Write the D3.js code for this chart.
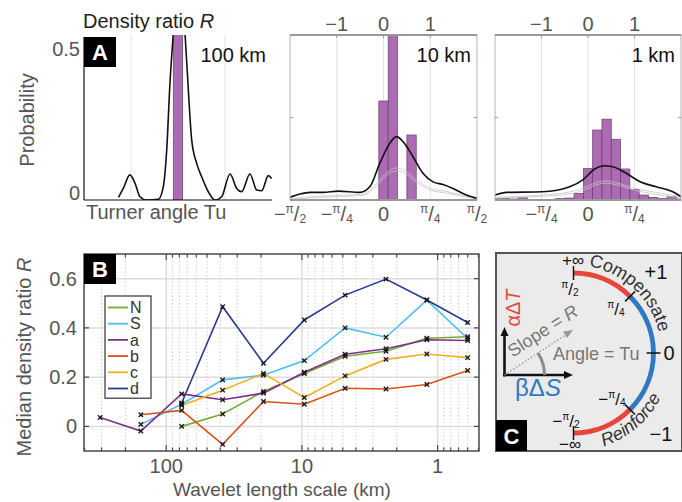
<!DOCTYPE html>
<html><head><meta charset="utf-8">
<script src="https://cdn.jsdelivr.net/npm/d3@7"></script>
<style>
html,body{margin:0;padding:0;background:#fff;}
svg{display:block;font-family:'Liberation Sans',Arial,sans-serif;}
</style></head><body>
<svg id="chart" width="682" height="502"></svg>
<script>
// ================= DATA =================
// Panel A: histogram bin centres (Turner angle, degrees) and probabilities
const binCenters = [-90,-81,-72,-63,-54,-45,-36,-27,-18,-9,0,9,18,27,36,45,54,63,72,81,90];
const hist100km = [0,0,0,0,0,0,0,0,0,0,1.0,0,0,0,0,0,0,0,0,0,0];
const hist10km  = [0,0,0,0,0,0,0,0,0,0,0.30,0.51,0,0.197,0,0,0,0,0,0,0];
const hist1km   = [0.005,0.005,0.003,0.007,0.002,0.002,0.002,0.004,0.006,0.020,0.096,0.212,0.245,0.184,0.094,0.032,0.015,0.008,0.004,0.010,0.003];
// Panel A: kernel density curves [Tu (deg), probability]
const kde100km = [[-57,0.008],[-52.4,0.035],[-46,0.076],[-41.2,0.051],[-36.4,0.010],[-30,0.0],[-18.9,0.002],[-14.1,0.040],[-10.8,0.152],[-7.7,0.354],[-4.5,0.505],[0,0.70],[6.7,0.505],[9.9,0.333],[13.1,0.182],[17.9,0.111],[22.7,0.070],[29,0.025],[35.4,0.0],[41.8,0.010],[49.8,0.079],[56.2,0.035],[61,0.025],[68.9,0.079],[75.4,0.030],[80.1,0.028],[86.5,0.074],[89.7,0.065]];
const kde10km = [[-90,0.008],[-80.4,0.018],[-70.8,0.023],[-58,0.023],[-43.6,0.027],[-22.8,0.023],[-13.2,0.040],[-3.6,0.111],[6.1,0.172],[12.5,0.192],[18.8,0.177],[28.4,0.131],[38,0.081],[47.7,0.055],[57.3,0.047],[66.9,0.035],[79.8,0.015],[90,0.005]];
const kde10kmFaintA = [[-90,0.004],[-60,0.012],[-45,0.014],[-20,0.018],[-8,0.045],[2,0.080],[12,0.097],[20,0.090],[30,0.065],[45,0.036],[60,0.026],[75,0.016],[90,0.005]];
const kde10kmFaintB = [[-90,0.002],[-60,0.008],[-45,0.010],[-20,0.014],[-8,0.038],[2,0.072],[12,0.088],[20,0.082],[30,0.058],[45,0.030],[60,0.021],[75,0.012],[90,0.003]];
const kde1km = [[-90,0.015],[-78.7,0.023],[-44,0.025],[-17.7,0.040],[-5,0.061],[6.5,0.094],[16,0.104],[24,0.101],[37,0.081],[50,0.056],[66,0.040],[82,0.025],[90,0.010]];
const kde1kmFaintA = [[-90,0.008],[-60,0.012],[-45,0.015],[-15,0.026],[0,0.042],[10,0.055],[18,0.058],[30,0.050],[45,0.036],[60,0.026],[75,0.018],[90,0.010]];
const kde1kmFaintB = [[-90,0.005],[-60,0.009],[-45,0.011],[-15,0.020],[0,0.035],[10,0.048],[18,0.051],[30,0.044],[45,0.030],[60,0.020],[75,0.013],[90,0.006]];
const tuTickValues = [-90,-45,0,45,90];
const tuTickLabels = ['−π/2','−π/4','0','π/4','π/2'];
const rTickValues = [-1,0,1];
const rTickLabels = ['−1','0','1'];

// Panel B: wavelet length scales (km) and median density ratio per region
const scalesKm = [307,154,77,38.4,19.2,9.6,4.8,2.4,1.2,0.6];
const seriesNames = ['N','S','a','b','c','d'];
const seriesColors = ['#77ac30','#4dbeee','#7e2f8e','#d95319','#edb120','#2b3a8f'];
const valN = [null,null,0.0,0.05,0.142,0.215,0.285,0.305,0.358,0.364];
const valS = [null,0.008,0.09,0.189,0.208,0.267,0.40,0.362,0.513,0.357];
const valA = [0.036,-0.019,0.132,0.108,0.135,0.22,0.293,0.315,0.352,0.349];
const valB = [null,0.047,0.065,-0.073,0.101,0.09,0.155,0.152,0.17,0.227];
const valC = [null,null,0.085,0.147,0.215,0.117,0.205,0.272,0.294,0.279];
const valD = [null,null,0.095,0.486,0.256,0.432,0.533,0.598,0.513,0.422];
const yTicksB = [0,0.2,0.4,0.6];
const yTickLabelsB = ['0','0.2','0.4','0.6'];
const xMajorB = [100,10,1];
const xMajorLabelsB = ['100','10','1'];

// ================= DRAW =================
const svg = d3.select('#chart');
const defs = svg.append('defs');
const FONT_GRAY = '#555';

function piLabel(g, x, y, label, size, anchor){
  const t = g.append('text').attr('x',x).attr('y',y).attr('text-anchor',anchor||'middle')
    .attr('font-size',size).attr('fill',FONT_GRAY);
  if(label.indexOf('π')<0){ t.text(label); return t; }
  const neg = label[0]==='−';
  const den = label[label.length-1];
  if(neg) t.append('tspan').text('−');
  t.append('tspan').attr('font-size',size*0.6).attr('dy',-size*0.4).text('π');
  t.append('tspan').attr('dy',size*0.4).text('/');
  t.append('tspan').attr('font-size',size*0.6).attr('dy',size*0.08).text(den);
  return t;
}

// ---------- Panel A ----------
const yA = d3.scaleLinear().domain([0,0.5]).range([200,35]);
const panelsA = [
  {id:'a1',x0:84,x1:272,hist:hist100km,kde:kde100km,faint:[],label:'100 km',frame:false,top:false,bottomTicks:[]},
  {id:'a2',x0:290,x1:477,hist:hist10km,kde:kde10km,faint:[kde10kmFaintA,kde10kmFaintB],label:'10 km',frame:true,top:true,bottomTicks:[0,1,2,3,4]},
  {id:'a3',x0:495,x1:681,hist:hist1km,kde:kde1km,faint:[kde1kmFaintA,kde1kmFaintB],label:'1 km',frame:true,top:true,bottomTicks:[1,2,3]}
];
panelsA.forEach(p=>{
  const xs = d3.scaleLinear().domain([-90,90]).range([p.x0,p.x1]);
  const g = svg.append('g');
  defs.append('clipPath').attr('id','clip'+p.id).append('rect')
    .attr('x',p.x0).attr('y',yA(0.5)).attr('width',p.x1-p.x0).attr('height',yA(0)-yA(0.5));
  g.selectAll('.grid').data(tuTickValues.filter(v=>Math.abs(v)<90)).enter().append('line')
    .attr('x1',d=>xs(d)).attr('x2',d=>xs(d)).attr('y1',yA(0.5)).attr('y2',yA(0))
    .attr('stroke','#e2e2e2').attr('stroke-width',1);
  const inner = g.append('g').attr('clip-path','url(#clip'+p.id+')');
  const bw = xs(9)-xs(0);
  inner.selectAll('rect').data(binCenters.map((c,i)=>({c,v:p.hist[i]})).filter(d=>d.v>0)).enter().append('rect')
    .attr('x',d=>xs(d.c)-bw/2).attr('width',bw).attr('y',d=>yA(d.v)).attr('height',d=>yA(0)-yA(d.v))
    .attr('fill','#a55fab').attr('fill-opacity',0.92).attr('stroke','#6d3d72').attr('stroke-width',0.7);
  const line = d3.line().x(d=>xs(d[0])).y(d=>yA(d[1])).curve(d3.curveMonotoneX);
  p.faint.forEach(f=>{
    inner.append('path').attr('d',line(f)).attr('fill','none').attr('stroke','#c4c4c4').attr('stroke-width',0.8);
  });
  inner.append('path').attr('d',line(p.kde)).attr('fill','none').attr('stroke','#111').attr('stroke-width',1.6);
  if(p.frame){
    g.append('rect').attr('x',p.x0).attr('y',yA(0.5)).attr('width',p.x1-p.x0).attr('height',yA(0)-yA(0.5))
      .attr('fill','none').attr('stroke','#b5b5b5').attr('stroke-width',1);
    g.append('line').attr('x1',p.x0).attr('x2',p.x1).attr('y1',yA(0.5)).attr('y2',yA(0.5)).attr('stroke','#999').attr('stroke-width',2);
    g.append('line').attr('x1',p.x0).attr('x2',p.x1).attr('y1',yA(0)).attr('y2',yA(0)).attr('stroke','#999').attr('stroke-width',2);
    [p.x0,p.x1].forEach((x,i)=>{
      g.append('line').attr('x1',x).attr('x2',x+(i?-3:3)).attr('y1',yA(0.25)).attr('y2',yA(0.25)).attr('stroke','#999');
    });
  } else {
    g.append('line').attr('x1',p.x0).attr('x2',p.x0).attr('y1',yA(0.5)+2).attr('y2',yA(0)).attr('stroke','#111').attr('stroke-width',1.2);
    g.append('line').attr('x1',p.x0).attr('x2',p.x1).attr('y1',yA(0)).attr('y2',yA(0)).attr('stroke','#111').attr('stroke-width',1.2);
  }
  if(p.top){
    rTickValues.forEach((r,i)=>{
      const x = xs(Math.atan(r)*180/Math.PI);
      g.append('line').attr('x1',x).attr('x2',x).attr('y1',yA(0.5)).attr('y2',yA(0.5)+3).attr('stroke','#999');
      g.append('text').attr('x',x).attr('y',31).attr('text-anchor','middle').attr('font-size',20).attr('fill',FONT_GRAY).text(rTickLabels[i]);
    });
  }
  p.bottomTicks.forEach(i=>{
    piLabel(g, xs(tuTickValues[i]), 221, tuTickLabels[i], 20);
  });
  g.append('text').attr('x',p.x1-6).attr('y',62).attr('text-anchor','end').attr('font-size',20).attr('fill','#111').text(p.label);
});
svg.append('text').attr('x',83).attr('y',28).attr('font-size',20).attr('fill','#222')
  .call(t=>{t.append('tspan').text('Density ratio '); t.append('tspan').attr('font-style','italic').text('R');});
svg.append('text').attr('x',86).attr('y',219).attr('font-size',20).attr('fill',FONT_GRAY).text('Turner angle Tu');
svg.append('text').attr('transform','translate(34,120) rotate(-90)').attr('text-anchor','middle').attr('font-size',20).attr('fill',FONT_GRAY).text('Probability');
svg.append('text').attr('x',80).attr('y',56).attr('text-anchor','end').attr('font-size',20).attr('fill',FONT_GRAY).text('0.5');
svg.append('text').attr('x',80).attr('y',200).attr('text-anchor','end').attr('font-size',20).attr('fill',FONT_GRAY).text('0');
svg.append('rect').attr('x',84).attr('y',37).attr('width',32).attr('height',30).attr('fill','#000');
svg.append('text').attr('x',100).attr('y',60).attr('text-anchor','middle').attr('font-size',22).attr('font-weight','bold').attr('fill','#fff').text('A');

// ---------- Panel B ----------
const xB = d3.scaleLog().domain([404,0.495]).range([84,479]);
const yB = d3.scaleLinear().domain([-0.1,0.7]).range([451,254]);
const gB = svg.append('g');
const allTicks = xB.ticks();
const isMajor = v => xMajorB.some(m=>Math.abs(m-v)/m<1e-6);
gB.selectAll('.mg').data(allTicks.filter(v=>!isMajor(v))).enter().append('line')
  .attr('x1',d=>xB(d)).attr('x2',d=>xB(d)).attr('y1',254).attr('y2',451)
  .attr('stroke','#bdbdbd').attr('stroke-width',1).attr('stroke-dasharray','1,2.5');
gB.selectAll('.Mg').data(xMajorB).enter().append('line')
  .attr('x1',d=>xB(d)).attr('x2',d=>xB(d)).attr('y1',254).attr('y2',451)
  .attr('stroke','#dcdcdc').attr('stroke-width',1.5);
gB.selectAll('.hg').data(yTicksB).enter().append('line')
  .attr('x1',84).attr('x2',479).attr('y1',d=>yB(d)).attr('y2',d=>yB(d))
  .attr('stroke','#dcdcdc').attr('stroke-width',1.5);
const seriesVals = [valN,valS,valA,valB,valC,valD];
const lineB = d3.line().defined(d=>d.v!==null).x(d=>xB(d.s)).y(d=>yB(d.v));
seriesVals.forEach((vals,i)=>{
  const pts = scalesKm.map((s,j)=>({s,v:vals[j]}));
  gB.append('path').attr('d',lineB(pts)).attr('fill','none').attr('stroke',seriesColors[i]).attr('stroke-width',1.6);
});
seriesVals.forEach((vals,i)=>{
  scalesKm.forEach((s,j)=>{
    if(vals[j]===null) return;
    const x=xB(s), y=yB(vals[j]), r=2.2;
    gB.append('path').attr('d',`M${x-r},${y-r}L${x+r},${y+r}M${x-r},${y+r}L${x+r},${y-r}`)
      .attr('stroke','#1a1a1a').attr('stroke-width',1.4);
  });
});
gB.append('rect').attr('x',84).attr('y',254).attr('width',395).attr('height',197).attr('fill','none').attr('stroke','#4a4a4a').attr('stroke-width',1.5);
allTicks.forEach(v=>{
  const x=xB(v), L=isMajor(v)?6:3.5;
  gB.append('line').attr('x1',x).attr('x2',x).attr('y1',254).attr('y2',254+L).attr('stroke','#4a4a4a').attr('stroke-width',1.2);
  gB.append('line').attr('x1',x).attr('x2',x).attr('y1',451).attr('y2',451-L).attr('stroke','#4a4a4a').attr('stroke-width',1.2);
});
yTicksB.forEach((v,i)=>{
  const y=yB(v);
  gB.append('line').attr('x1',84).attr('x2',89).attr('y1',y).attr('y2',y).attr('stroke','#4a4a4a').attr('stroke-width',1.2);
  gB.append('line').attr('x1',479).attr('x2',474).attr('y1',y).attr('y2',y).attr('stroke','#4a4a4a').attr('stroke-width',1.2);
  gB.append('text').attr('x',77).attr('y',y+7).attr('text-anchor','end').attr('font-size',20).attr('fill',FONT_GRAY).text(yTickLabelsB[i]);
});
xMajorB.forEach((v,i)=>{
  gB.append('text').attr('x',xB(v)).attr('y',473).attr('text-anchor','middle').attr('font-size',20).attr('fill',FONT_GRAY).text(xMajorLabelsB[i]);
});
gB.append('text').attr('x',282).attr('y',496).attr('text-anchor','middle').attr('font-size',19).attr('fill',FONT_GRAY).text('Wavelet length scale (km)');
gB.append('text').attr('transform','translate(31,357) rotate(-90)').attr('text-anchor','middle').attr('font-size',20).attr('fill',FONT_GRAY)
  .call(t=>{t.append('tspan').text('Median density ratio '); t.append('tspan').attr('font-style','italic').text('R');});
// legend
const legRow = 16.2, legTop = 307.5;
gB.append('rect').attr('x',105).attr('y',296).attr('width',46).attr('height',legRow*6+5).attr('fill','#fff').attr('stroke','#333').attr('stroke-width',1.2);
seriesNames.forEach((n,i)=>{
  const y = legTop + i*legRow;
  gB.append('line').attr('x1',108).attr('x2',128).attr('y1',y).attr('y2',y).attr('stroke',seriesColors[i]).attr('stroke-width',1.8);
  gB.append('text').attr('x',130).attr('y',y+5.6).attr('font-size',16).attr('fill','#333').text(n);
});
gB.append('rect').attr('x',84).attr('y',254).attr('width',32).attr('height',30).attr('fill','#000');
gB.append('text').attr('x',100).attr('y',277).attr('text-anchor','middle').attr('font-size',22).attr('font-weight','bold').attr('fill','#fff').text('B');

// ---------- Panel C ----------
const gC = svg.append('g');
gC.append('rect').attr('x',496).attr('y',253).attr('width',186).attr('height',198).attr('fill','#ebebeb').attr('stroke','#555').attr('stroke-width',2);
const cx=573.5, cy=353, R0=80;
const arcC = d3.arc().innerRadius(R0-2.4).outerRadius(R0+2.4);
const segs = [[0,Math.PI/4,'#e8453c'],[Math.PI/4,3*Math.PI/4,'#2f78c2'],[3*Math.PI/4,Math.PI,'#e8453c']];
segs.forEach(s=>{
  gC.append('path').attr('transform',`translate(${cx},${cy})`).attr('d',arcC({startAngle:s[0],endAngle:s[1]})).attr('fill',s[2]);
});
[90,45,0,-45,-90].forEach(a=>{
  const t=a*Math.PI/180;
  gC.append('line').attr('x1',cx+(R0-7)*Math.cos(t)).attr('y1',cy-(R0-7)*Math.sin(t))
    .attr('x2',cx+(R0+7)*Math.cos(t)).attr('y2',cy-(R0+7)*Math.sin(t)).attr('stroke','#111').attr('stroke-width',1.5);
});
gC.append('text').attr('x',573).attr('y',266).attr('text-anchor','middle').attr('font-size',17).attr('fill','#111').text('+∞');
gC.append('text').attr('x',570).attr('y',450).attr('text-anchor','middle').attr('font-size',17).attr('fill','#111').text('−∞');
function piLabelC(x,y,label){
  const t=piLabel(gC,x,y,label,17); t.attr('fill','#111');
}
piLabelC(570,295,'π/2');
piLabelC(616,315,'π/4');
piLabelC(612,405,'−π/4');
piLabelC(566,427,'−π/2');
gC.append('text').attr('x',669).attr('y',360).attr('text-anchor','middle').attr('font-size',20).attr('fill','#111').text('0');
gC.append('text').attr('x',656).attr('y',279).attr('text-anchor','middle').attr('font-size',20).attr('fill','#111').text('+1');
gC.append('text').attr('x',661).attr('y',441).attr('text-anchor','middle').attr('font-size',20).attr('fill','#111').text('−1');
function arcPoint(r,deg){const t=deg*Math.PI/180;return [cx+r*Math.cos(t), cy-r*Math.sin(t)];}
function arcText(id, r, a0, a1, sweep, str, italic){
  const p0=arcPoint(r,a0), p1=arcPoint(r,a1);
  defs.append('path').attr('id',id).attr('d',`M${p0[0]},${p0[1]}A${r},${r} 0 0 ${sweep} ${p1[0]},${p1[1]}`);
  const tmp = gC.append('text').attr('font-size',18).attr('font-style',italic?'italic':'normal');
  tmp.append('textPath').attr('href','#'+id).text(str);
  const node = tmp.node();
  const chars = [];
  for(let i=0;i<str.length;i++){
    const pos = node.getStartPositionOfChar(i);
    chars.push({c:str[i], x:pos.x, y:pos.y, r:node.getRotationOfChar(i)});
  }
  tmp.remove();
  chars.forEach(d=>{
    gC.append('text').attr('transform',`translate(${d.x},${d.y}) rotate(${d.r})`)
      .attr('font-size',18).attr('fill','#333').attr('font-style',italic?'italic':'normal').text(d.c);
  });
}
arcText('compPath',88,80,2,1,'Compensate',false);
arcText('reinPath',98,-72,-18,0,'Reinforce',true);
const ox=504.5, oy=375;
gC.append('line').attr('x1',ox).attr('y1',oy+1.5).attr('x2',ox).attr('y2',334).attr('stroke','#111').attr('stroke-width',2.6);
gC.append('path').attr('d',`M${ox},327L${ox-4},336L${ox+4},336Z`).attr('fill','#111');
gC.append('line').attr('x1',ox-1.5).attr('y1',oy).attr('x2',566).attr('y2',oy).attr('stroke','#111').attr('stroke-width',2.6);
gC.append('path').attr('d',`M573,${oy}L564,${oy-4}L564,${oy+4}Z`).attr('fill','#111');
gC.append('line').attr('x1',ox).attr('y1',oy).attr('x2',567).attr('y2',334).attr('stroke','#999').attr('stroke-width',1.3).attr('stroke-dasharray','1.5,2');
gC.append('path').attr('d','M573,330L563,331.5L567,338Z').attr('fill','#999');
const angArc = d3.arc().innerRadius(38.5).outerRadius(41.5);
gC.append('path').attr('transform',`translate(${ox},${oy})`).attr('d',angArc({startAngle:Math.PI/2-0.58,endAngle:Math.PI/2})).attr('fill','#8a8a8a');
gC.append('text').attr('x',553).attr('y',360).attr('font-size',18).attr('fill','#777').text('Angle = Tu');
gC.append('text').attr('transform','translate(546,336) rotate(-33)').attr('text-anchor','middle').attr('font-size',18).attr('fill','#777')
  .call(t=>{t.append('tspan').text('Slope = '); t.append('tspan').attr('font-style','italic').text('R');});
gC.append('text').attr('transform','translate(520,308) rotate(-90)').attr('text-anchor','middle').attr('font-size',20).attr('fill','#e8453c')
  .call(t=>{t.append('tspan').text('αΔ'); t.append('tspan').attr('font-style','italic').text('T');});
gC.append('text').attr('x',538).attr('y',396).attr('text-anchor','middle').attr('font-size',24).attr('fill','#2f78c2')
  .call(t=>{t.append('tspan').text('βΔ'); t.append('tspan').attr('font-style','italic').text('S');});
gC.append('rect').attr('x',496).attr('y',420).attr('width',31).attr('height',31).attr('fill','#000');
gC.append('text').attr('x',511.5).attr('y',444).attr('text-anchor','middle').attr('font-size',22).attr('font-weight','bold').attr('fill','#fff').text('C');
</script>
</body></html>
